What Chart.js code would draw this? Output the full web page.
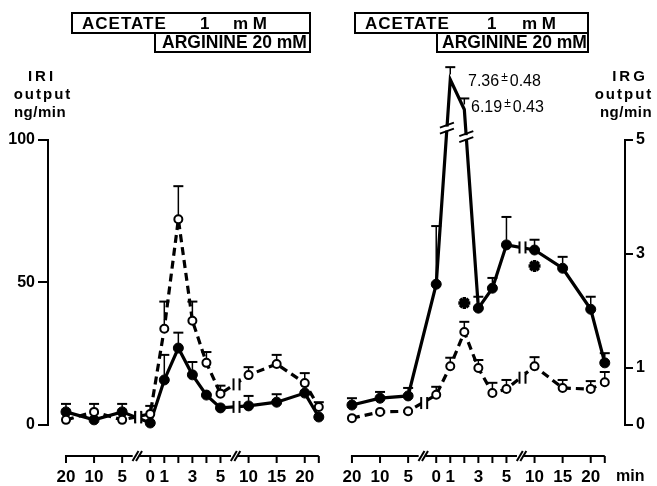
<!DOCTYPE html>
<html><head><meta charset="utf-8">
<script src="https://cdn.jsdelivr.net/npm/chart.js@4"></script>
<style>html,body{margin:0;padding:0;background:#fff}</style>
</head><body>
<canvas id="c" width="657" height="486"></canvas>
<script>
// ---------- DATA ----------
const timeLabels = ["20","10","5","0","1","","3","","5","10","15","20",""];
// Left panel: IRI output (ng/min)
const iriAcetate    = [1.8, 4.6, 1.8, 3.9, 33.8, 72.2, 36.6, 21.8, 11.0, 17.5, 21.4, 14.7, 6.3];   // open circles, dashed
const iriAcetateErr = [0,   2.8, 0,   2.8, 9.5,  11.6, 6.7,  3.8,  2.8,  2.8,  3.2,  3.5,  1.7];
const iriControl    = [4.6, 1.8, 4.6, 0.7, 15.8, 27.0, 17.6, 10.5, 6.0,  6.7,  8.0,  11.2, 2.8];   // filled circles, solid
const iriControlErr = [2.8, 0,   2.8, 0,   8.8,  5.4,  4.5,  0,    0,    3.5,  2.8,  0,    0];
// Right panel: IRG output (ng/min)
const irgControl    = [0.35, 0.47, 0.51, 2.47, 7.36, 6.19, 2.05, 2.40, 3.16, 3.07, 2.75, 2.03, 1.09];
const irgControlErr = [0.12, 0.11, 0.14, 1.02, 0.48, 0.43, 0.20, 0.18, 0.49, 0.18, 0.20, 0.22, 0.17];
const irgAcetate    = [0.12, 0.23, 0.24, 0.53, 1.03, 1.63, 1.00, 0.56, 0.63, 1.03, 0.65, 0.63, 0.75];
const irgAcetateErr = [0,    0,    0,    0.14, 0.15, 0.18, 0.14, 0.18, 0.16, 0.16, 0.14, 0.14, 0.18];
const iriTicks = [0, 50, 100];
const irgTicks = [0, 1, 3, 5];
const significantIdx = [5, 9];
const significantVal = [2.14, 2.79];
const peakNotes = ["7.36", "0.48", "6.19", "0.43"];

// ---------- LAYOUT ----------
const SLOT = [0,2,4,6,7,8,9,10,11,13,15,17,18];
const RIGHT_OFF = 20.36;
const X_MIN = -1.28, X_MAX = 39.8;
const FONT = "'Liberation Sans', Arial, Helvetica, sans-serif";
const brk = v => v <= 5 ? v : 5 + (v - 5) * 0.45;   // broken upper part of IRG axis

const pts = (vals, off, map) => vals.map((v, i) => ({x: SLOT[i] + off, y: map ? map(v) : v}));

const xTickVals = [], xTickText = [];
[0, RIGHT_OFF].forEach(off => {
  timeLabels.forEach((t, i) => { if (t !== "") { xTickVals.push(SLOT[i] + off); xTickText.push(t); } });
});

const openStyle = {borderColor:'#000', borderWidth:3.2, borderDash:[8,5], pointRadius:4, pointBorderWidth:2,
  pointBackgroundColor:'#fff', pointBorderColor:'#000', tension:0, clip:false, fill:false};
const filledStyle = {borderColor:'#000', borderWidth:3.2, pointRadius:5, pointBorderWidth:1,
  pointBackgroundColor:'#000', pointBorderColor:'#000', tension:0, clip:false, fill:false};

const errSets = [
  {ds:0, vals:iriAcetate, err:iriAcetateErr, axis:'yL', map:v=>v, r:4},
  {ds:1, vals:iriControl, err:iriControlErr, axis:'yL', map:v=>v, r:5},
  {ds:2, vals:irgAcetate, err:irgAcetateErr, axis:'yR', map:brk, r:4},
  {ds:3, vals:irgControl, err:irgControlErr, axis:'yR', map:brk, r:5}
];
const lineBreaks = [{ds:0,a:2,b:3},{ds:1,a:2,b:3},{ds:0,a:8,b:9},{ds:1,a:8,b:9},
                    {ds:2,a:2,b:3},{ds:2,a:8,b:9},{ds:3,a:8,b:9}];
const topBreaks = [{ds:3,a:3,b:4,v:5.2},{ds:3,a:5,b:6,v:5.05}];

function seg(ctx,x1,y1,x2,y2){ctx.beginPath();ctx.moveTo(x1,y1);ctx.lineTo(x2,y2);ctx.stroke();}

const deco = {
  id:'deco',
  afterDatasetsDraw(chart){
    const ctx = chart.ctx, xs = chart.scales.x, ca = chart.chartArea;
    ctx.save();
    ctx.strokeStyle = '#000'; ctx.fillStyle = '#000'; ctx.setLineDash([]);
    // error bars
    errSets.forEach(s => {
      const meta = chart.getDatasetMeta(s.ds), ax = chart.scales[s.axis];
      s.vals.forEach((v, i) => {
        if (!s.err[i]) return;
        const p = meta.data[i];
        const top = ax.getPixelForValue(s.map(v + s.err[i]));
        ctx.lineWidth = 1.5; seg(ctx, p.x, p.y - s.r, p.x, top);
        ctx.lineWidth = 2; seg(ctx, p.x - 5, top, p.x + 5, top);
      });
    });
    // breaks on lines (horizontal-ish)
    lineBreaks.forEach(b => {
      const m = chart.getDatasetMeta(b.ds), p = m.data[b.a], q = m.data[b.b];
      const x = (p.x + q.x) / 2 + 2, y = (p.y + q.y) / 2;
      ctx.fillStyle = '#fff'; ctx.fillRect(x - 3, y - 5, 6, 10);
      ctx.lineWidth = 2; seg(ctx, x - 3, y - 6, x - 3, y + 6); seg(ctx, x + 3, y - 6, x + 3, y + 6);
    });
    // breaks on steep lines
    topBreaks.forEach(b => {
      const m = chart.getDatasetMeta(b.ds), p = m.data[b.a], q = m.data[b.b];
      const y = chart.scales.yR.getPixelForValue(b.v);
      const t = (y - p.y) / (q.y - p.y), x = p.x + t * (q.x - p.x);
      ctx.fillStyle = '#fff'; ctx.fillRect(x - 5, y - 2, 10, 4);
      ctx.lineWidth = 2; seg(ctx, x - 7, y - 1, x + 7, y - 6); seg(ctx, x - 7, y + 5, x + 7, y);
    });
    ctx.fillStyle = '#000';
    // y axis lines
    const yL = chart.scales.yL, yR = chart.scales.yR;
    ctx.lineWidth = 2;
    seg(ctx, ca.left, yL.getPixelForValue(0) + 1, ca.left, yL.getPixelForValue(100) - 1);
    seg(ctx, ca.right, yR.getPixelForValue(0) + 1, ca.right, yR.getPixelForValue(5) - 1);
    // segmented x axes
    const ay = ca.bottom;
    [0, RIGHT_OFF].forEach(off => {
      const P = v => xs.getPixelForValue(v + off);
      [[0, 4.75], [5.3, 11.75], [12.3, 18]].forEach(r => seg(ctx, P(r[0]) - 1, ay, P(r[1]), ay));
      [4.95, 5.2, 11.95, 12.2].forEach(v => seg(ctx, P(v) - 3, ay + 5, P(v) + 3, ay - 5));
      SLOT.forEach(s => seg(ctx, P(s), ay, P(s), ay + 7));
    });
    ctx.restore();
  },
  afterDraw(chart){
    const ctx = chart.ctx;
    ctx.save();
    ctx.fillStyle = '#000'; ctx.strokeStyle = '#000'; ctx.lineWidth = 2;
    ctx.textBaseline = 'middle'; ctx.textAlign = 'left';
    // treatment boxes
    [{l:72, a:155, r:310, t1:82, one:200, mm:233, arg:162}, {l:355, a:437, r:588, t1:365, one:487, mm:522, arg:442}].forEach(b => {
      ctx.strokeRect(b.l, 13, b.r - b.l, 20);
      ctx.strokeRect(b.a, 33, b.r - b.a, 19);
      ctx.font = 'bold 17px ' + FONT;
      ctx.letterSpacing = '1px';
      ctx.fillText('ACETATE', b.t1, 24);
      ctx.letterSpacing = '0px';
      ctx.fillText('1', b.one, 24);
      ctx.fillText('m M', b.mm, 24);
      ctx.font = 'bold 17.5px ' + FONT;
      ctx.fillText('ARGININE 20 mM', b.arg, 43);
    });
    // axis titles
    ctx.textAlign = 'center';
    ctx.font = 'bold 15px ' + FONT;
    ctx.letterSpacing = '3px';
    ctx.fillText('IRI', 42, 77); ctx.fillText('IRG', 630, 77);
    ctx.letterSpacing = '2px';
    ctx.fillText('output', 43, 95);
    ctx.fillText('output', 624, 95);
    ctx.letterSpacing = '0.5px';
    ctx.fillText('ng/min', 40, 113);
    ctx.fillText('ng/min', 626, 113);
    ctx.letterSpacing = '0px';
    ctx.textAlign = 'left';
    ctx.font = 'bold 16px ' + FONT;
    ctx.fillText('min', 616, 477);
    // peak values
    const note = (x, y, a, b) => {
      ctx.font = '16px ' + FONT; ctx.fillText(a, x, y);
      let w = ctx.measureText(a).width;
      ctx.font = '12px ' + FONT; ctx.fillText('±', x + w + 2, y - 4);
      let w2 = ctx.measureText('±').width;
      ctx.font = '16px ' + FONT; ctx.fillText(b, x + w + w2 + 4, y);
    };
    note(468, 82, peakNotes[0], peakNotes[1]);
    note(471, 108, peakNotes[2], peakNotes[3]);
    ctx.restore();
  }
};

const tickFont = {family: FONT, size: 17, weight: 'bold'};
new Chart(document.getElementById('c'), {
  type: 'line',
  data: {
    datasets: [
      Object.assign({label:'IRI acetate', data: pts(iriAcetate, 0), yAxisID:'yL'}, openStyle),
      Object.assign({label:'IRI control', data: pts(iriControl, 0), yAxisID:'yL'}, filledStyle),
      Object.assign({label:'IRG acetate', data: pts(irgAcetate, RIGHT_OFF, brk), yAxisID:'yR'}, openStyle),
      Object.assign({label:'IRG control', data: pts(irgControl, RIGHT_OFF, brk), yAxisID:'yR'}, filledStyle),
      {label:'significant', data: significantIdx.map((k, j) => ({x: SLOT[k] + RIGHT_OFF, y: significantVal[j]})),
       yAxisID:'yR', showLine:false, pointStyle:'star', pointRadius:6, pointBorderWidth:3.5, borderColor:'#000', clip:false}
    ]
  },
  options: {
    responsive:false, animation:false, events:[],
    layout:{padding:{top:140, left:0, right:0, bottom:0}},
    plugins:{legend:{display:false}, tooltip:{enabled:false}},
    scales:{
      x:{type:'linear', min:X_MIN, max:X_MAX, grid:{display:false}, border:{display:false},
         afterBuildTicks: s => { s.ticks = xTickVals.map(v => ({value:v})); },
         ticks:{autoSkip:false, maxRotation:0, minRotation:0, padding:3, color:'#000', font:tickFont,
                callback:(v, i) => xTickText[i]},
         afterFit: s => { s.height = 30; }},
      yL:{type:'linear', position:'left', min:-10.88, max:100,
          afterBuildTicks: s => { s.ticks = iriTicks.map(v => ({value:v})); },
          grid:{drawOnChartArea:false, drawTicks:true, tickLength:10, color:'#000', lineWidth:2},
          border:{display:false},
          ticks:{padding:3, color:'#000', font:{family: FONT, size: 16, weight: 'bold'}},
          afterFit: s => { s.width = 48; }},
      yR:{type:'linear', position:'right', min:-0.544, max:5,
          afterBuildTicks: s => { s.ticks = irgTicks.map(v => ({value:v})); },
          grid:{drawOnChartArea:false, drawTicks:true, tickLength:8, color:'#000', lineWidth:2},
          border:{display:false},
          ticks:{padding:3, color:'#000', font:{family: FONT, size: 16, weight: 'bold'}},
          afterFit: s => { s.width = 32; }}
    }
  },
  plugins:[deco]
});
</script>
</body></html>
